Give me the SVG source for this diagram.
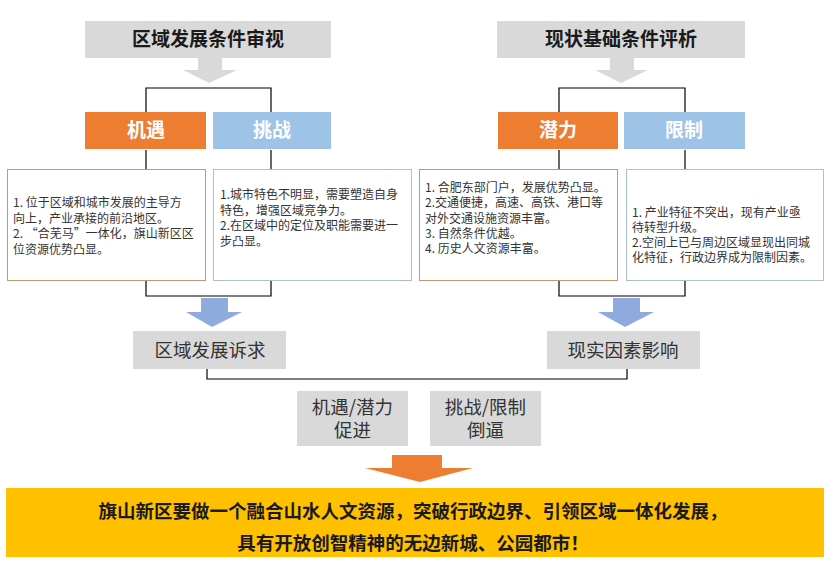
<svg xmlns="http://www.w3.org/2000/svg" width="835" height="570" viewBox="0 0 835 570">
<style>
text{font-family:"Noto Sans CJK SC","Noto Sans",sans-serif}
.title{font-size:19px;font-weight:bold;fill:#1a1a1a;text-anchor:middle}
.lab{font-size:19px;font-weight:bold;fill:#ffffff;text-anchor:middle}
.mid{font-size:18.5px;fill:#333333;text-anchor:middle}
.body{font-size:12px;fill:#333333}
.fin{font-size:18.5px;font-weight:bold;fill:#1a1a1a;text-anchor:middle}
.gray{fill:#d9d9d9}
.orange{fill:#ed7d31}
.blue{fill:#9dc3e6}
.boxo{fill:#ffffff;stroke:#c49a6c;stroke-width:1}
.boxb{fill:#ffffff;stroke:#abbfcc;stroke-width:1}
.conn{fill:none;stroke:#000000;stroke-width:1.2}
</style>
<rect width="835" height="570" fill="#ffffff"/>
<g id="connectors">
<polyline class="conn" points="146,112 146,88 271,88 271,112"/>
<line class="conn" x1="146" y1="150" x2="146" y2="169"/>
<line class="conn" x1="271" y1="150" x2="271" y2="169"/>
<polyline class="conn" points="146,281 146,296 271,296 271,281"/>
<polyline class="conn" points="559,112 559,88 685,88 685,112"/>
<line class="conn" x1="559" y1="150" x2="559" y2="169"/>
<line class="conn" x1="685" y1="150" x2="685" y2="169"/>
<polyline class="conn" points="559,281 559,296 685,296 685,281"/>
<polyline class="conn" points="207,369 207,379 627,379 627,369"/>
<polygon fill="#d9d9d9" points="198,58 222,58 222,70 237,70 209,83 183,70 198,70"/>
<polygon fill="#d9d9d9" points="610,58 634,58 634,70 648,70 621,83 595,70 610,70"/>
<polygon fill="#8faadc" points="201,298 228,298 228,312 242,312 212,327 186,312 201,312"/>
<polygon fill="#8faadc" points="613,298 640,298 640,312 654,312 625,327 598,312 613,312"/>
<polygon fill="#ed7d31" points="392,455 442,455 442,468 473,468 420,482 365,468 392,468"/>
</g>
<g id="title-left"><rect class="gray" x="85" y="21" width="246" height="37"/><text class="title" x="208" y="46">区域发展条件审视</text></g>
<g id="title-right"><rect class="gray" x="497" y="21" width="248" height="37"/><text class="title" x="621" y="46">现状基础条件评析</text></g>
<g id="jiyu"><rect class="orange" x="85" y="112" width="121" height="37"/><text class="lab" x="146" y="137">机遇</text></g>
<g id="tiaozhan"><rect class="blue" x="213" y="112" width="118" height="37"/><text class="lab" x="272" y="137">挑战</text></g>
<g id="qianli"><rect class="orange" x="498" y="112" width="120" height="37"/><text class="lab" x="558" y="137">潜力</text></g>
<g id="xianzhi"><rect class="blue" x="624" y="112" width="121" height="37"/><text class="lab" x="684" y="137">限制</text></g>
<g id="jiyu-text"><rect class="boxo" x="7.5" y="169.5" width="198" height="111"/>
<text class="body" x="13" y="207"><tspan x="13">1. 位于区域和城市发展的主导方</tspan><tspan x="13" dy="15.7">向上，产业承接的前沿地区。</tspan><tspan x="13" dy="15.7">2. “合芜马”一体化，旗山新区区</tspan><tspan x="13" dy="15.7">位资源优势凸显。</tspan></text></g>
<g id="tiaozhan-text"><rect class="boxb" x="213.5" y="169.5" width="198" height="111"/>
<text class="body" x="220" y="199"><tspan x="220">1.城市特色不明显，需要塑造自身</tspan><tspan x="220" dy="15.5">特色，增强区域竞争力。</tspan><tspan x="220" dy="15.5">2.在区域中的定位及职能需要进一</tspan><tspan x="220" dy="15.5">步凸显。</tspan></text></g>
<g id="qianli-text"><rect class="boxo" x="419.5" y="169.5" width="198" height="111"/>
<text class="body" x="425" y="192"><tspan x="425">1. 合肥东部门户，发展优势凸显。</tspan><tspan x="425" dy="15.3">2.交通便捷，高速、高铁、港口等</tspan><tspan x="425" dy="15.3">对外交通设施资源丰富。</tspan><tspan x="425" dy="15.3">3. 自然条件优越。</tspan><tspan x="425" dy="15.3">4. 历史人文资源丰富。</tspan></text></g>
<g id="xianzhi-text"><rect class="boxb" x="626.5" y="169.5" width="197" height="111"/>
<text class="body" x="632" y="217"><tspan x="632">1. 产业特征不突出，现有产业亟</tspan><tspan x="632" dy="15">待转型升级。</tspan><tspan x="632" dy="15">2.空间上已与周边区域显现出同城</tspan><tspan x="632" dy="15">化特征，行政边界成为限制因素。</tspan></text></g>
<g id="suqiu"><rect class="gray" x="133" y="331" width="153" height="38"/><text class="mid" x="210" y="357">区域发展诉求</text></g>
<g id="yingxiang"><rect class="gray" x="547" y="331" width="153" height="38"/><text class="mid" x="623" y="357">现实因素影响</text></g>
<g id="cujin"><rect class="gray" x="297" y="391" width="111" height="55"/><text class="mid" x="352.5" y="414"><tspan x="352.5">机遇/潜力</tspan><tspan x="352.5" dy="23">促进</tspan></text></g>
<g id="bibi"><rect class="gray" x="430" y="391" width="111" height="55"/><text class="mid" x="485.5" y="414"><tspan x="485.5">挑战/限制</tspan><tspan x="485.5" dy="23">倒逼</tspan></text></g>
<g id="conclusion"><rect fill="#ffc000" x="6" y="488" width="818" height="69"/>
<text class="fin" x="413" y="518"><tspan x="413">旗山新区要做一个融合山水人文资源，突破行政边界、引领区域一体化发展，</tspan><tspan x="413" dy="32">具有开放创智精神的无边新城、公园都市！</tspan></text></g>
</svg>
